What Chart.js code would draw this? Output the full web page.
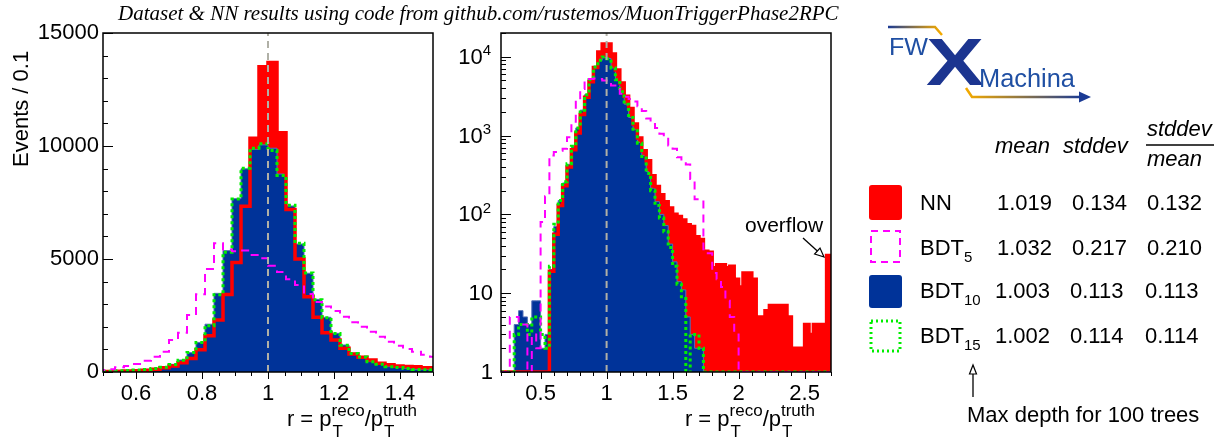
<!DOCTYPE html>
<html>
<head>
<meta charset="utf-8">
<script src="https://cdn.jsdelivr.net/npm/chart.js@4.4.1/dist/chart.umd.min.js"></script>
<style>
  body { margin: 0; background: #fff; }
  #page { position: relative; width: 1223px; height: 440px; overflow: hidden;
          font-family: "Liberation Sans", Arial, sans-serif; color: #000; }
  canvas { position: absolute; top: 0; }
  #cLin { left: 0; }
  #cLog { left: 440px; }
  .t { position: absolute; white-space: nowrap; line-height: 1; }
  svg { position: absolute; left: 0; top: 0; }
</style>
</head>
<body>
<div id="page">
  <canvas id="cLin" width="450" height="440"></canvas>
  <canvas id="cLog" width="420" height="440"></canvas>
  <svg width="1223" height="440">
    <defs>
      <linearGradient id="gTop" gradientUnits="userSpaceOnUse" x1="888" y1="0" x2="940" y2="0">
        <stop offset="0" stop-color="#1a3a94"/><stop offset="1" stop-color="#f2a900"/>
      </linearGradient>
      <linearGradient id="gBot" gradientUnits="userSpaceOnUse" x1="968" y1="0" x2="1082" y2="0">
        <stop offset="0" stop-color="#f2a900"/><stop offset="1" stop-color="#1a3a94"/>
      </linearGradient>
    </defs>
    <!-- logo -->
    <path d="M888 27 H935 L942 35" stroke="url(#gTop)" stroke-width="2.5" fill="none"/>
    <path d="M966 88 L972 97 H1081" stroke="url(#gBot)" stroke-width="2.5" fill="none"/>
    <polygon points="1079,91.5 1091,97 1079,102.5" fill="#1a3a94"/>
    <text x="889" y="55" font-family="Liberation Sans, Arial" font-size="23" fill="#1f4fa3" textLength="39" lengthAdjust="spacingAndGlyphs">FW</text>
    <text x="926" y="85" font-family="Liberation Sans, Arial" font-weight="bold" font-size="66" fill="#1c3590" textLength="58" lengthAdjust="spacingAndGlyphs">X</text>
    <text x="979" y="87" font-family="Liberation Sans, Arial" font-size="26" fill="#1f4fa3" textLength="96" lengthAdjust="spacingAndGlyphs">Machina</text>
    <!-- legend boxes -->
    <rect x="869" y="185" width="33" height="35" rx="3" fill="#ff0000"/>
    <rect x="871" y="231" width="29" height="31" fill="none" stroke="#ff00ff" stroke-width="2" stroke-dasharray="7 5"/>
    <rect x="869" y="275" width="33" height="33" rx="3" fill="#003399"/>
    <rect x="871" y="321" width="29" height="30" fill="none" stroke="#00ee00" stroke-width="3" stroke-dasharray="2 3"/>
    <!-- fraction bar -->
    <line x1="1146" y1="145" x2="1214" y2="145" stroke="#000" stroke-width="1.5"/>
    <!-- arrows -->
    <line x1="803" y1="238" x2="819" y2="252.5" stroke="#000" stroke-width="1.3"/>
    <polygon points="824,257 814.6,254 820,248" fill="#fff" stroke="#000" stroke-width="1.2"/>
    <line x1="973" y1="397" x2="973" y2="373" stroke="#000" stroke-width="1.3"/>
    <polygon points="973,365 969.5,374 976.5,374" fill="#fff" stroke="#000" stroke-width="1.2"/>
  </svg>
</div>
<script>
// ---- left panel (linear y): bins of 3/110 with an edge at r = 1 ----
const linBinWidth = 3 / 110;
const linFirstEdge = 1 - 19 * linBinWidth;
const linNN    = [18, 22, 28, 40, 59, 74, 118, 190, 265, 413,
                  600, 990, 1600, 2300, 3430, 4840, 7330, 10340, 13510, 13690,
                  10590, 7190, 5000, 3330, 2420, 1740, 1420, 1050, 800, 650,
                  530, 390, 325, 266, 240, 236, 192, 190];
const linBDT5  = [90, 118, 207, 265, 354, 500, 680, 900, 1415, 1740,
                  2520, 3440, 4560, 5700, 5420, 5340, 5380, 5180, 5030, 4700,
                  4420, 4100, 3850, 3450, 3100, 2900, 2700, 2450, 2200, 2000,
                  1780, 1560, 1340, 1165, 1020, 900, 760, 680];
const linBDT10 = [30, 40, 55, 70, 88, 118, 148, 207, 340, 530,
                  855, 1310, 2115, 3480, 5370, 7670, 8990, 9850, 10050, 9900,
                  8760, 7345, 5660, 4370, 3215, 2420, 1710, 1195, 826, 680,
                  457, 354, 236, 206, 162, 118, 110, 88];
const linBDT15 = [28, 38, 52, 68, 85, 115, 150, 210, 330, 520,
                  860, 1300, 2050, 3420, 5300, 7650, 9020, 9900, 10100, 9800,
                  8700, 7380, 5700, 4380, 3200, 2400, 1700, 1180, 820, 660,
                  450, 340, 230, 195, 155, 112, 100, 85];

// ---- right panel (log y): bins of 1/30 from 0.2 to 2.7, last bin = overflow ----
const logBinWidth = 1 / 30;
const logFirstEdge = 0.2;
const logNN    = [0, 0, 0, 0, 0, 0, 0, 0, 0, 0,
                  0, 19, 56, 130, 230, 400, 660, 1080, 1850, 3050,
                  4800, 7300, 11500, 14500, 14500, 10800, 6800, 4650, 3150, 2200,
                  1400, 930, 640, 480, 310, 225, 178, 145, 120, 100,
                  94, 85, 74, 70, 52, 48, 34, 33, 21, 23,
                  23, 21, 22, 15, 12, 18, 18, 15, 5, 5,
                  6, 7, 7, 7, 7, 5, 2, 2, 2, 4,
                  3, 4, 4, 4, 30];
const logBDT5  = [0, 0, 5, 5, 4, 4, 1, 3, 2, 80,
                  170, 560, 620, 640, 680, 950, 1500, 2800, 3900, 5000,
                  5200, 5300, 5200, 5000, 4800, 4300, 3900, 3400, 3100, 2900,
                  2700, 2350, 2050, 1650, 1400, 1250, 1050, 950, 750, 680,
                  530, 480, 430, 280, 155, 150, 36, 32, 18, 15,
                  12, 8, 5, 3, 0, 0, 0, 0, 0, 0,
                  0, 0, 0, 0, 0, 0, 0, 0, 0, 0,
                  0, 0, 0, 0, 0];
const logBDT10 = [0, 0, 0, 4, 6, 5, 4, 8, 8, 2,
                  3, 20, 70, 150, 250, 430, 720, 1250, 2100, 3300,
                  5200, 7500, 9000, 9800, 9500, 7200, 5000, 3600, 2500, 1700,
                  1200, 820, 560, 350, 215, 145, 100, 72, 42, 25,
                  14, 11, 5, 3, 2, 2, 0, 0, 0, 0,
                  0, 0, 0, 0, 0, 0, 0, 0, 0, 0,
                  0, 0, 0, 0, 0, 0, 0, 0, 0, 0,
                  0, 0, 0, 0, 0];
const logBDT15 = [0, 0, 0, 3, 4, 4, 3, 5, 5, 3,
                  2, 22, 75, 150, 260, 440, 730, 1250, 2100, 3300,
                  5100, 7400, 9000, 9900, 9400, 7200, 5100, 3600, 2500, 1700,
                  1150, 800, 520, 330, 200, 130, 90, 60, 38, 22,
                  13, 9, 0, 3, 3, 2, 0, 0, 0, 0,
                  0, 0, 0, 0, 0, 0, 0, 0, 0, 0,
                  0, 0, 0, 0, 0, 0, 0, 0, 0, 0,
                  0, 0, 0, 0, 0];

// axes
const linXTicks = [0.6, 0.8, 1, 1.2, 1.4];
const linYTicks = [0, 5000, 10000, 15000];
const logXTicks = [0.5, 1, 1.5, 2, 2.5];
const logYTicks = [1, 10, 100, 1000, 10000];
const refRatio = 1;

// legend table
const legendNames = ['NN', 'BDT', 'BDT', 'BDT'];
const legendDepth = ['', '5', '10', '15'];
const legendMean  = [1.019, 1.032, 1.003, 1.002];
const legendStd   = [0.134, 0.217, 0.113, 0.114];
const legendRatio = [0.132, 0.210, 0.113, 0.114];

Chart.defaults.font.family = "'Liberation Sans', Arial, sans-serif";
Chart.defaults.color = '#000';

function histPoints(values, firstEdge, width, floor) {
  const pts = values.map((v, i) => ({ x: firstEdge + i * width, y: Math.max(v, floor) }));
  pts.push({ x: firstEdge + values.length * width, y: Math.max(values[values.length - 1], floor) });
  return pts;
}

function panelDatasets(h, firstEdge, width, floor, yMin, yMax) {
  const base = { stepped: 'before', pointRadius: 0, tension: 0, fill: false };
  const pts = v => histPoints(v, firstEdge, width, floor);
  return [
    { ...base, data: [{ x: refRatio, y: yMin }, { x: refRatio, y: yMax }],
      borderColor: '#b0b0a6', borderWidth: 2, borderDash: [7, 5] },
    { ...base, data: pts(h.bdt5), borderColor: '#ff00ff', borderWidth: 2, borderDash: [8, 6] },
    { ...base, data: pts(h.bdt15), borderColor: '#00ee00', borderWidth: 3, borderDash: [3, 3] },
    { ...base, data: pts(h.nn), borderColor: '#ff0000', borderWidth: 3.5 },
    { ...base, data: pts(h.bdt10), borderColor: '#5570b8', borderWidth: 1,
      backgroundColor: '#003399', fill: 'start' },
    { ...base, data: pts(h.nn), borderColor: '#ff0000', borderWidth: 1,
      backgroundColor: '#ff0000', fill: 'start' }
  ];
}

// frame, tick marks (x outward, y inward) and, for the log axis, 10^n labels
const frameTicks = {
  id: 'frameTicks',
  afterDraw(chart, args, o) {
    const { ctx, chartArea: a, scales: { x, y } } = chart;
    ctx.save();
    ctx.strokeStyle = '#000';
    ctx.lineWidth = 1;
    ctx.beginPath();
    const xt = (v, len) => { const p = Math.round(x.getPixelForValue(v)) + 0.5;
      ctx.moveTo(p, a.bottom); ctx.lineTo(p, a.bottom + len); };
    const yt = (v, len) => { const p = Math.round(y.getPixelForValue(v)) + 0.5;
      ctx.moveTo(a.left, p); ctx.lineTo(a.left + len, p); };
    o.xMinor.forEach(v => xt(v, 4));
    o.xMajor.forEach(v => xt(v, 7));
    o.yMinor.forEach(v => yt(v, 5));
    o.yMajor.forEach(v => yt(v, 10));
    ctx.stroke();
    ctx.lineWidth = 1.5;
    ctx.strokeRect(a.left, a.top, a.right - a.left, a.bottom - a.top);
    if (o.powerLabels) {
      ctx.fillStyle = '#000';
      ctx.textBaseline = 'middle';
      ctx.textAlign = 'right';
      o.yMajor.forEach(v => {
        const p = y.getPixelForValue(v) + 1;
        const e = Math.round(Math.log10(v));
        if (e < 2) {
          ctx.font = "22px 'Liberation Sans', Arial";
          ctx.fillText(String(v), a.left - 8, p);
        } else {
          ctx.font = "15px 'Liberation Sans', Arial";
          const ew = ctx.measureText(String(e)).width;
          ctx.fillText(String(e), a.left - 10, p - 7);
          ctx.font = "22px 'Liberation Sans', Arial";
          ctx.fillText('10', a.left - 10 - ew, p);
        }
      });
    }
    ctx.restore();
  }
};

function range(from, to, step) {
  const out = [];
  for (let v = from; v <= to + 1e-9; v += step) out.push(+v.toFixed(6));
  return out;
}

function makeChart(id, cfg) {
  return new Chart(document.getElementById(id), {
    type: 'line',
    data: { datasets: cfg.datasets },
    plugins: [frameTicks],
    options: {
      responsive: false,
      devicePixelRatio: 1,
      animation: false,
      events: [],
      layout: { padding: { top: 33, right: cfg.padRight, left: 0, bottom: 0 } },
      plugins: {
        legend: { display: false },
        tooltip: { enabled: false },
        frameTicks: cfg.ticks
      },
      scales: {
        x: {
          type: 'linear', min: cfg.xMin, max: cfg.xMax,
          grid: { display: false, drawTicks: false }, border: { display: false },
          afterBuildTicks: s => { s.ticks = cfg.xTicks.map(v => ({ value: v })); },
          afterFit: s => { s.height = 68; },
          ticks: { font: { size: 22 }, padding: 9, maxRotation: 0, autoSkip: false,
                   callback: v => String(v) }
        },
        y: {
          type: cfg.yType, min: cfg.yMin, max: cfg.yMax,
          grid: { display: false, drawTicks: false }, border: { display: false },
          afterBuildTicks: s => { s.ticks = cfg.yTicks.map(v => ({ value: v })); },
          afterFit: s => { s.width = cfg.yWidth; },
          ticks: { display: cfg.yLabels, font: { size: 22 }, padding: 4, autoSkip: false,
                   callback: v => String(v) }
        }
      }
    }
  });
}

makeChart('cLin', {
  datasets: panelDatasets({ nn: linNN, bdt5: linBDT5, bdt10: linBDT10, bdt15: linBDT15 },
                          linFirstEdge, linBinWidth, 0, 0, 15000),
  xMin: 0.5, xMax: 1.5, yType: 'linear', yMin: 0, yMax: 15000,
  xTicks: linXTicks, yTicks: linYTicks, yWidth: 103, padRight: 17, yLabels: true,
  ticks: { xMajor: linXTicks, xMinor: range(0.5, 1.5, 0.05),
           yMajor: linYTicks, yMinor: range(0, 15000, 1000) }
});

const logMinor = [];
logYTicks.forEach(d => { for (let m = 2; m <= 9; m++) if (d * m <= 20000) logMinor.push(d * m); });
makeChart('cLog', {
  datasets: panelDatasets({ nn: logNN, bdt5: logBDT5, bdt10: logBDT10, bdt15: logBDT15 },
                          logFirstEdge, logBinWidth, 1, 1, 20000),
  xMin: 0.2, xMax: 2.7, yType: 'logarithmic', yMin: 1, yMax: 20000,
  xTicks: logXTicks, yTicks: logYTicks, yWidth: 61, padRight: 29, yLabels: false,
  ticks: { xMajor: logXTicks, xMinor: range(0.2, 2.7, 0.1),
           yMajor: logYTicks, yMinor: logMinor, powerLabels: true }
});

// ---- text ----
const page = document.getElementById('page');
function addText(html, left, baseline, size, style) {
  const d = document.createElement('div');
  d.className = 't';
  d.innerHTML = html;
  d.style.fontSize = size + 'px';
  d.style.left = left + 'px';
  d.style.top = (baseline - 0.8465 * size) + 'px';
  if (style) Object.assign(d.style, style);
  page.appendChild(d);
  return d;
}

const measure = document.createElement('canvas').getContext('2d');
function textWidth(s, size) {
  measure.font = size + "px 'Liberation Sans', Arial";
  return measure.measureText(s).width;
}

addText('Dataset &amp; NN results using code from github.com/rustemos/MuonTriggerPhase2RPC',
        118, 21, 21, { fontFamily: "'Liberation Serif', 'Times New Roman', serif", fontStyle: 'italic' });

const yTitle = addText('Events / 0.1', 0, 0, 22);
yTitle.style.top = '0px';
yTitle.style.transformOrigin = '0 0';
yTitle.style.transform = 'translate(10.4px, 167px) rotate(-90deg)';

// r = pT^reco / pT^truth, right-aligned under each panel
function addXTitle(right) {
  const big = 22, small = 17, base = 427, supBase = 416, subBase = 437;
  const w1 = textWidth('r = p', big);
  const s1 = Math.max(textWidth('reco', small), textWidth('T', small));
  const w2 = textWidth('/p', big);
  const s2 = Math.max(textWidth('truth', small), textWidth('T', small));
  let x = right - (w1 + s1 + w2 + s2);
  addText('r = p', x, base, big); x += w1;
  addText('reco', x, supBase, small); addText('T', x + 1, subBase, small); x += s1;
  addText('/p', x, base, big); x += w2;
  addText('truth', x, supBase, small); addText('T', x + 1, subBase, small);
}
addXTitle(417);
addXTitle(815);

addText('overflow', 745, 232, 21);

addText('mean', 995, 154, 22, { fontStyle: 'italic' });
addText('stddev', 1063, 154, 22, { fontStyle: 'italic' });
addText('stddev', 1147, 137, 22, { fontStyle: 'italic' });
addText('mean', 1147, 167, 22, { fontStyle: 'italic' });

const rowBase = [211, 256, 299, 344];
legendNames.forEach((name, i) => {
  const sub = legendDepth[i]
    ? '<span style="font-size:15px;position:relative;top:7px">' + legendDepth[i] + '</span>' : '';
  const shift = i >= 2 ? -2 : 0;
  addText(name + sub, 920, rowBase[i], 22);
  addText(legendMean[i].toFixed(3), 997 + shift, rowBase[i], 22);
  addText(legendStd[i].toFixed(3), 1072 + shift, rowBase[i], 22);
  addText(legendRatio[i].toFixed(3), 1147 + shift, rowBase[i], 22);
});

addText('Max depth for 100 trees', 967, 423, 22);
</script>
</body>
</html>
